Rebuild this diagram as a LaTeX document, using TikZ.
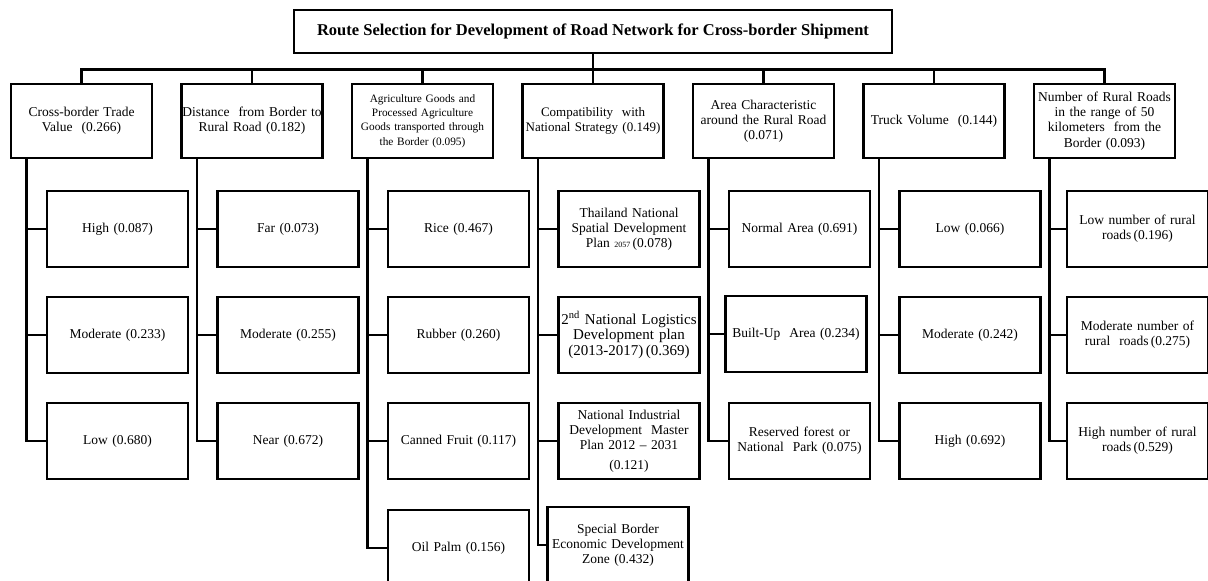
\documentclass[tikz,border=0pt]{standalone}
\usepackage{fontspec}
\setmainfont{Liberation Serif}
\begin{document}
\begin{tikzpicture}[x=1pt,y=-1pt,line width=2.5pt,
  goal/.style={draw,rectangle,minimum width=598pt,minimum height=43pt,font=\fontsize{16.5}{18}\selectfont\bfseries},
  crit/.style={draw,rectangle,minimum width=141pt,minimum height=74pt,text width=140pt,inner sep=0.5pt,align=center,font=\fontsize{13.5}{15.2}\selectfont},
  alt/.style={crit,minimum height=76pt}]

\useasboundingbox (0,0) rectangle (1208,581);

\node [goal] (goal) at (593,31.5) {Route Selection for Development of Road Network for Cross-border Shipment};

% criteria
\node [crit] (h1) at (81.5,121) {Cross-border Trade\\ Value~ (0.266)};
\node [crit] (h2) at (252,121) {Distance~ from Border to\\ Rural Road (0.182)};
\node [crit,font=\fontsize{11.3}{14.4}\selectfont] (h3) at (422.5,121) {Agriculture Goods and\\ Processed Agriculture\\ Goods transported through\\ the Border (0.095)};
\node [crit,font=\fontsize{13}{15.2}\selectfont] (h4) at (593,121) {Compatibility~ with\\ National Strategy (0.149)};
\node [crit] (h5) at (763.5,121) {Area Characteristic\\ around the Rural Road\\ (0.071)};
\node [crit] (h6) at (934,121) {Truck Volume~ (0.144)};
\node [crit] (h7) at (1104.5,121) {Number of Rural Roads\\ in the range of 50\\ kilometers~ from the\\ Border (0.093)};

\draw (goal.south) -- ++(0,15) -| (h1.north);
\draw (goal.south) -- ++(0,15) -| (h2.north);
\draw (goal.south) -- ++(0,15) -| (h3.north);
\draw (goal.south) -- (h4.north);
\draw (goal.south) -- ++(0,15) -| (h5.north);
\draw (goal.south) -- ++(0,15) -| (h6.north);
\draw (goal.south) -- ++(0,15) -| (h7.north);

% alternatives
\node [alt] (c11) at (117.5,229) {High (0.087)};
\node [alt] (c12) at (117.5,335) {Moderate (0.233)};
\node [alt] (c13) at (117.5,441) {Low (0.680)};

\node [alt] (c21) at (288,229) {Far (0.073)};
\node [alt] (c22) at (288,335) {Moderate (0.255)};
\node [alt] (c23) at (288,441) {Near (0.672)};

\node [alt] (c31) at (458.5,229) {Rice (0.467)};
\node [alt] (c32) at (458.5,335) {Rubber (0.260)};
\node [alt] (c33) at (458.5,441) {Canned Fruit (0.117)};
\node [alt] (c34) at (458.5,548) {Oil Palm (0.156)};

\node [alt] (c41) at (629,229) {Thailand National\\ Spatial Development\\ Plan {\fontsize{8}{9}\selectfont 2057}\,(0.078)};
\node [alt,font=\fontsize{15}{15.5}\selectfont] (c42) at (629,335) {2\textsuperscript{nd} National Logistics\\ Development plan\\ (2013-2017)\,(0.369)};
\node [alt] (c43) at (629,441) {National Industrial\\ Development~ Master\\ Plan 2012 -- 2031\\[4pt] (0.121)};
\node [alt] (c44) at (618,545) {Special Border\\ Economic Development\\ Zone (0.432)};

\node [alt] (c51) at (799.5,229) {Normal Area (0.691)};
\node [alt] (c52) at (796,334) {Built-Up~ Area (0.234)};
\node [alt] (c53) at (799.5,441) {Reserved forest or\\ National~ Park (0.075)};

\node [alt] (c61) at (970,229) {Low (0.066)};
\node [alt] (c62) at (970,335) {Moderate (0.242)};
\node [alt] (c63) at (970,441) {High (0.692)};

\node [alt] (c71) at (1137.5,229) {Low number of rural\\ roads\,(0.196)};
\node [alt] (c72) at (1137.5,335) {Moderate number of\\ rural~ roads\,(0.275)};
\node [alt] (c73) at (1137.5,441) {High number of rural\\ roads\,(0.529)};

% trunks
\coordinate (t1) at ([xshift=-55pt]h1.south);
\coordinate (t2) at ([xshift=-55pt]h2.south);
\coordinate (t3) at ([xshift=-55pt]h3.south);
\coordinate (t4) at ([xshift=-55pt]h4.south);
\coordinate (t5) at ([xshift=-55pt]h5.south);
\coordinate (t6) at ([xshift=-55pt]h6.south);
\coordinate (t7) at ([xshift=-55pt]h7.south);

\draw (t1) |- (c11.west);
\draw (t1) |- (c12.west);
\draw (t1) |- (c13.west);

\draw (t2) |- (c21.west);
\draw (t2) |- (c22.west);
\draw (t2) |- (c23.west);

\draw (t3) |- (c31.west);
\draw (t3) |- (c32.west);
\draw (t3) |- (c33.west);
\draw (t3) |- (c34.west);

\draw (t4) |- (c41.west);
\draw (t4) |- (c42.west);
\draw (t4) |- (c43.west);
\draw (t4) |- (c44.west);

\draw (t5) |- (c51.west);
\draw (t5) |- (c52.west);
\draw (t5) |- (c53.west);

\draw (t6) |- (c61.west);
\draw (t6) |- (c62.west);
\draw (t6) |- (c63.west);

\draw (t7) |- (c71.west);
\draw (t7) |- (c72.west);
\draw (t7) |- (c73.west);

\end{tikzpicture}
\end{document}
